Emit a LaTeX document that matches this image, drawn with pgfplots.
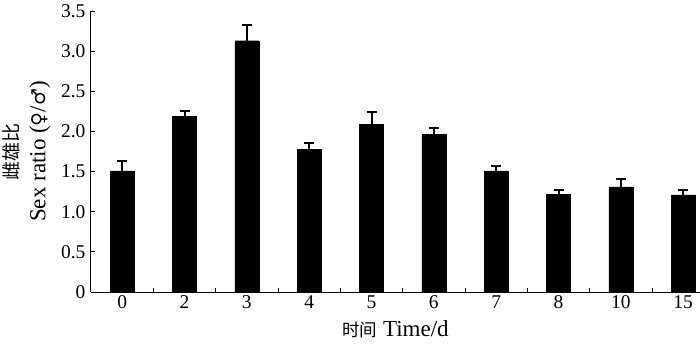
\documentclass[border=0pt]{standalone}
\usepackage{fontspec}
\setmainfont{Liberation Serif}
\newfontfamily\cjk{Noto Sans CJK SC}
\newfontfamily\sym{DejaVu Sans}
\usepackage{pgfplots}
\pgfplotsset{compat=1.18}
\begin{document}
\begin{tikzpicture}
\useasboundingbox (-91pt,-51pt) rectangle (609pt,292pt);
\begin{axis}[
  at={(0,0)}, anchor=south west,
  scale only axis, width=609pt, height=281pt,
  xmin=-0.5, xmax=9.27, ymin=0, ymax=3.5,
  axis lines*=left,
  axis line style={line width=1pt, black},
  ybar, bar width=24pt,
  ytick={0,0.5,1,1.5,2,2.5,3,3.5},
  yticklabels={0,0.5,1.0,1.5,2.0,2.5,3.0,3.5},
  xtick={0.5,1.5,2.5,3.5,4.5,5.5,6.5,7.5,8.5}, xticklabels={},
  extra x ticks={0,1,2,3,4,5,6,7,8,9},
  extra x tick labels={0,2,3,4,5,6,7,8,10,15},
  extra x tick style={major tick length=0pt},
  tick align=inside, major tick length=4pt,
  tick style={black, line width=0.8pt},
  ticklabel style={font=\fontsize{19.5}{22}\selectfont},
  yticklabel style={xshift=-2pt},
  /pgf/number format/assume math mode=true,
  xlabel={{\cjk\fontsize{17.5}{22}\selectfont 时间} Time/d},
  xlabel style={at={(rel axis cs:0.5,-0.159)}, anchor=base, inner sep=0pt, font=\fontsize{23}{26}\selectfont},
  ylabel={{\cjk\fontsize{19}{27.3}\selectfont 雌雄比}\\Sex ratio ({\sym\fontsize{19}{22}\selectfont ♀}/{\sym\fontsize{19}{22}\selectfont ♂})},
  ylabel style={at={(rel axis cs:-0.0665,0.5)}, anchor=south, inner sep=0pt, align=center, font=\fontsize{23}{27.3}\selectfont},
  clip=false,
]
\addplot[fill=black, draw=black, line width=0.4pt,
  error bars/.cd, y dir=plus, y explicit,
  error bar style={line width=2pt, black},
  error mark options={rotate=90, mark size=5pt, line width=2pt, black}]
  coordinates {
  (0,1.51) +- (0,0.12)
  (1,2.19) +- (0,0.07)
  (2,3.13) +- (0,0.19)
  (3,1.78) +- (0,0.075)
  (4,2.09) +- (0,0.15)
  (5,1.965) +- (0,0.075)
  (6,1.51) +- (0,0.065)
  (7,1.22) +- (0,0.055)
  (8,1.31) +- (0,0.095)
  (9,1.21) +- (0,0.065)
  };
\end{axis}
\end{tikzpicture}
\end{document}
